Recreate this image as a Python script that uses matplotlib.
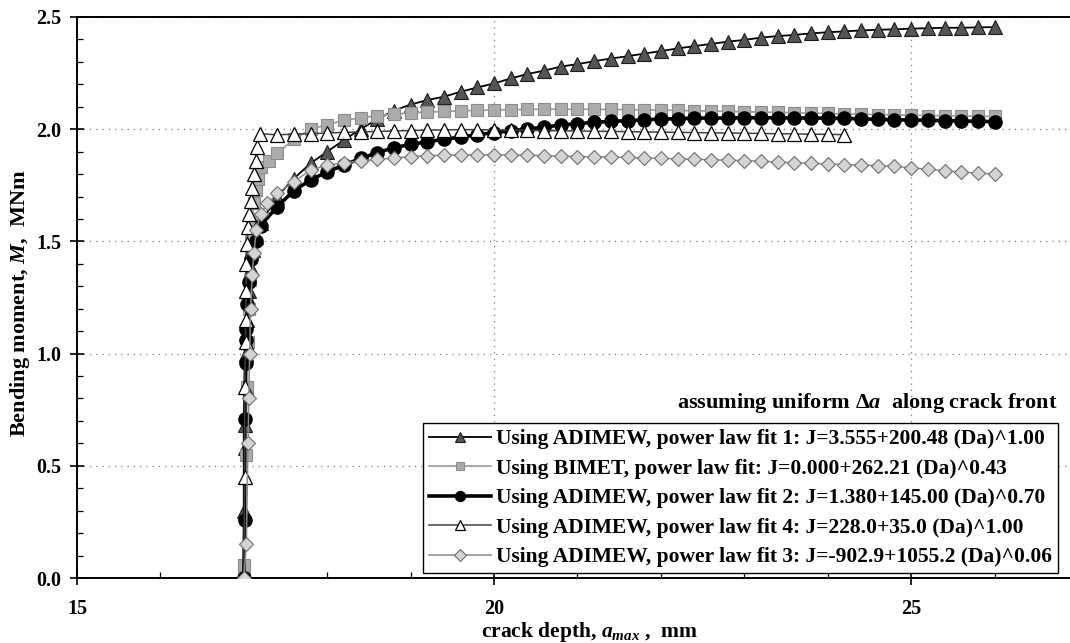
import matplotlib
matplotlib.use("Agg")
import matplotlib.pyplot as plt
from matplotlib.ticker import MultipleLocator, FormatStrFormatter

plt.rcParams["font.family"] = ["Liberation Serif", "DejaVu Serif"]
plt.rcParams["font.weight"] = "bold"
plt.rcParams["mathtext.fontset"] = "custom"
plt.rcParams["mathtext.rm"] = "Liberation Serif:bold"
plt.rcParams["mathtext.it"] = "Liberation Serif:bold:italic"
plt.rcParams["mathtext.bf"] = "Liberation Serif:bold"

# ---- data: crack depth a_max (mm) vs bending moment M (MNm) ----
flat_a = [17.4, 17.6, 17.8, 18.0, 18.2, 18.4, 18.6, 18.8, 19.0, 19.2,
          19.4, 19.6, 19.8, 20.0, 20.2, 20.4, 20.6, 20.8, 21.0, 21.2,
          21.4, 21.6, 21.8, 22.0, 22.2, 22.4, 22.6, 22.8, 23.0, 23.2,
          23.4, 23.6, 23.8, 24.0, 24.2, 24.4, 24.6, 24.8, 25.0, 25.2,
          25.4, 25.6, 25.8, 26.0]

# ADIMEW, power law fit 1
fit1_a = [17.00, 17.00, 17.01, 17.01, 17.02, 17.03, 17.04, 17.06, 17.08, 17.11,
          17.15, 17.20] + flat_a
fit1_m = [0.00, 0.30, 0.58, 0.68, 0.85, 1.00, 1.15, 1.28, 1.38, 1.46,
          1.52, 1.58,
          1.70, 1.78, 1.848, 1.90, 1.952, 2.00, 2.045, 2.083, 2.110, 2.130,
          2.145, 2.167, 2.186, 2.204, 2.226, 2.246, 2.261, 2.279, 2.290, 2.303,
          2.315, 2.325, 2.337, 2.348, 2.360, 2.370, 2.380, 2.390, 2.398, 2.408,
          2.415, 2.420, 2.427, 2.432, 2.436, 2.440, 2.443, 2.445, 2.448, 2.450,
          2.452, 2.452, 2.454, 2.455]

# BIMET, power law fit
bimet_a = [17.00, 17.00, 17.02, 17.04, 17.05, 17.06, 17.07, 17.08, 17.09, 17.10,
           17.12, 17.14, 17.17, 17.21, 17.30] + flat_a
bimet_m = [0.00, 0.06, 0.55, 0.85, 1.05, 1.20, 1.33, 1.43, 1.52, 1.60,
           1.67, 1.73, 1.78, 1.83, 1.86,
           1.893, 1.955, 2.000, 2.020, 2.040, 2.050, 2.060, 2.068, 2.072, 2.076,
           2.079, 2.082, 2.084, 2.086, 2.087, 2.088, 2.089, 2.089, 2.089, 2.089,
           2.088, 2.087, 2.086, 2.085, 2.084, 2.082, 2.081, 2.079, 2.078, 2.076,
           2.075, 2.073, 2.072, 2.070, 2.068, 2.067, 2.065, 2.064, 2.062, 2.061,
           2.060, 2.059, 2.058, 2.057]

# ADIMEW, power law fit 2
fit2_a = [17.00, 17.01, 17.01, 17.02, 17.02, 17.03, 17.04, 17.06, 17.09, 17.14,
          17.20] + flat_a
fit2_m = [0.00, 0.26, 0.71, 0.96, 1.06, 1.11, 1.22, 1.32, 1.42, 1.50,
          1.57,
          1.655, 1.726, 1.774, 1.810, 1.840, 1.870, 1.895, 1.918, 1.932, 1.944,
          1.955, 1.965, 1.975, 1.985, 1.993, 2.000, 2.010, 2.018, 2.025, 2.030,
          2.035, 2.038, 2.042, 2.045, 2.047, 2.049, 2.050, 2.050, 2.051, 2.051,
          2.051, 2.050, 2.050, 2.049, 2.048, 2.046, 2.044, 2.042, 2.041, 2.040,
          2.038, 2.037, 2.035, 2.034]

# ADIMEW, power law fit 4
fit4_a = [17.00, 17.01, 17.01, 17.02, 17.02, 17.03, 17.03, 17.04, 17.05, 17.06,
          17.08, 17.10, 17.12, 17.14, 17.16, 17.19] + flat_a[:35]
fit4_m = [0.00, 0.45, 0.85, 1.05, 1.15, 1.28, 1.40, 1.49, 1.565, 1.62,
          1.68, 1.74, 1.80, 1.86, 1.92, 1.98,
          1.975, 1.978, 1.980, 1.983, 1.986, 1.988, 1.990, 1.992, 1.994, 1.996,
          1.997, 1.998, 1.998, 1.997, 1.996, 1.995, 1.994, 1.993, 1.992, 1.991,
          1.990, 1.989, 1.988, 1.987, 1.986, 1.985, 1.984, 1.983, 1.982, 1.981,
          1.980, 1.979, 1.978, 1.977, 1.976]

# ADIMEW, power law fit 3
fit3_a = [17.00, 17.03, 17.05, 17.06, 17.07, 17.08, 17.10, 17.12, 17.15, 17.20,
          17.28] + flat_a
fit3_m = [0.00, 0.15, 0.60, 0.80, 1.00, 1.20, 1.35, 1.45, 1.55, 1.62,
          1.67,
          1.714, 1.766, 1.818, 1.840, 1.850, 1.858, 1.865, 1.872, 1.878, 1.882,
          1.884, 1.885, 1.886, 1.886, 1.885, 1.884, 1.882, 1.880, 1.878, 1.877,
          1.876, 1.874, 1.872, 1.870, 1.868, 1.866, 1.864, 1.862, 1.860, 1.857,
          1.854, 1.851, 1.848, 1.845, 1.842, 1.840, 1.838, 1.834, 1.828, 1.821,
          1.815, 1.809, 1.804, 1.800]

labels = [
    "Using ADIMEW, power law fit 1: J=3.555+200.48 (Da)^1.00",
    "Using BIMET, power law fit: J=0.000+262.21 (Da)^0.43",
    "Using ADIMEW, power law fit 2: J=1.380+145.00 (Da)^0.70",
    "Using ADIMEW, power law fit 4: J=228.0+35.0 (Da)^1.00",
    "Using ADIMEW, power law fit 3: J=-902.9+1055.2 (Da)^0.06",
]

W, H = 1070, 643
fig = plt.figure(figsize=(W / 100, H / 100), dpi=100)
ax = fig.add_axes([77 / W, 1 - 578 / H, 1001 / W, 561 / H])

h1, = ax.plot(fit1_a, fit1_m, color="black", lw=1.3, marker="^", ms=10,
              mfc="#555555", mec="#1a1a1a", mew=0.8, zorder=3)
h2, = ax.plot(bimet_a, bimet_m, color="#a0a0a0", lw=1.3, marker="s", ms=8,
              mfc="#ababab", mec="#8c8c8c", mew=0.8, zorder=4)
h3, = ax.plot(fit2_a, fit2_m, color="black", lw=2.6, marker="o", ms=9.5,
              mfc="black", mec="black", zorder=5)
h4, = ax.plot(fit4_a, fit4_m, color="#404040", lw=1.1, marker="^", ms=10,
              mfc="white", mec="black", mew=0.9, zorder=6)
h5, = ax.plot(fit3_a, fit3_m, color="#8a8a8a", lw=1.1, marker="D", ms=7.5,
              mfc="#d4d4d4", mec="#6e6e6e", mew=0.8, zorder=7)

ax.set_xlim(15, 27)
ax.set_ylim(0, 2.5)
ax.xaxis.set_major_locator(MultipleLocator(5))
ax.xaxis.set_minor_locator(MultipleLocator(1))
ax.yaxis.set_major_locator(MultipleLocator(0.5))
ax.yaxis.set_minor_locator(MultipleLocator(0.1))
ax.yaxis.set_major_formatter(FormatStrFormatter("%.1f"))

ax.grid(True, which="major", linestyle=(0, (1, 4)), color="#7a7a7a", lw=0.9)
ax.set_axisbelow(True)
for s in ax.spines.values():
    s.set_linewidth(1.4)
    s.set_color("black")

ax.tick_params(axis="x", which="major", direction="inout", length=10, width=1.2,
               pad=10, labelsize=14.5)
ax.tick_params(axis="y", which="major", direction="inout", length=10, width=1.2,
               pad=6, labelsize=14.5)
ax.tick_params(which="minor", direction="in", length=4, width=0.9)
for lab in ax.get_xticklabels() + ax.get_yticklabels():
    lab.set_fontweight("bold")

fig.text(590 / W, 1 - 637 / H, r"crack depth, $a_{max}$ ,  mm", ha="center",
         va="baseline", fontsize=15.5, fontweight="bold")
fig.text(20 / W, 1 - 303 / H, r"Bending moment, $M$,  MNm", ha="center",
         va="center", rotation=90, fontsize=16, fontweight="bold")
fig.text(1058 / W, 1 - 403 / H, r"assuming uniform $Δa$  along crack front",
         ha="right", va="center", fontsize=16, fontweight="bold")

leg = ax.legend([h1, h2, h3, h4, h5], labels, loc="upper left",
                bbox_to_anchor=(423 / W, 1 - 423 / H),
                bbox_transform=fig.transFigure, borderaxespad=0,
                frameon=True, fancybox=False, shadow=False, framealpha=1,
                edgecolor="black", handlelength=2.9,
                handletextpad=0.22, labelspacing=0.44, borderpad=0.28,
                markerscale=0.75, prop={"weight": "bold", "size": 15.5})
leg.get_frame().set_linewidth(1.0)

fig.savefig("out.png", dpi=100, facecolor="white")
